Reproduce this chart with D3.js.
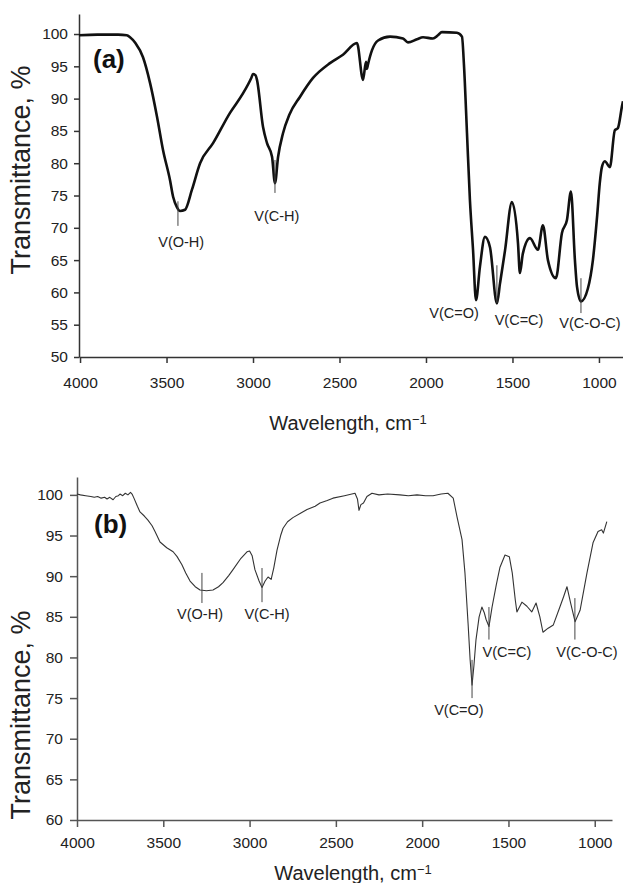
<!DOCTYPE html>
<html><head><meta charset="utf-8">
<script src="https://cdn.jsdelivr.net/npm/d3@7"></script>
<style>
html,body{margin:0;padding:0;background:#fff;}
svg{display:block;font-family:"Liberation Sans",Arial,sans-serif;}
</style></head>
<body><svg id="c" width="623" height="883"></svg>
<script>
// ---------- Panel (a) data ----------
const wavenumberA = [4006,3900,3780,3730,3711,3680,3636,3595,3555,3520,3480,3462,3440,3422,3393,3353,3306,3231,3133,3058,3010,3000,2985,2977,2942,2919,2890,2873,2855,2827,2790,2728,2653,2555,2480,2399,2364,2347,2341,2336,2312,2277,2208,2133,2104,2052,2017,1960,1931,1908,1821,1792,1780,1763,1746,1728,1711,1688,1659,1630,1590,1572,1543,1503,1468,1457,1440,1399,1353,1324,1295,1249,1214,1185,1162,1139,1127,1104,1064,1035,1010,995,983,966,937,908,891,867,861];
const transA = [99.8,99.9,99.9,99.8,99.5,98.6,96.4,92.4,87.2,82,77.4,74.8,73.2,72.6,72.8,75.9,80,83.1,87.8,90.8,93.2,93.8,93.6,92.9,85.6,83.1,81,76.9,81,84.6,87.5,90.3,93.2,95.5,96.8,98.6,92.9,95.7,94.6,95.2,97.5,99,99.6,99.3,98.7,99.2,99.5,99.3,99.8,100.3,100.2,99.6,95,84.7,74.3,66.6,58.8,64,68.6,67,58.3,61.4,66.5,74,67.6,63,66,68.4,66.6,70.4,65,62.2,69.2,71.2,75.6,65,60.9,58.6,60.6,65,72,77,79.4,80.3,79.4,85.1,85.4,88.8,89.6];

// ---------- Panel (b) data ----------
const wavenumberB = [4000,3980,3950,3920,3900,3880,3860,3840,3826,3810,3791,3775,3760,3751,3735,3720,3705,3690,3681,3670,3650,3635,3610,3589,3565,3548,3519,3480,3443,3420,3392,3370,3345,3315,3287,3250,3212,3180,3154,3120,3096,3050,3015,3000,2985,2969,2945,2928,2910,2893,2875,2860,2841,2820,2806,2780,2749,2700,2667,2620,2592,2550,2517,2450,2389,2375,2366,2355,2340,2320,2291,2250,2200,2129,2080,2030,1980,1937,1890,1851,1820,1798,1769,1752,1734,1722,1711,1700,1688,1670,1654,1640,1630,1613,1595,1570,1549,1520,1495,1478,1460,1451,1422,1393,1365,1340,1318,1300,1270,1240,1202,1180,1161,1140,1114,1085,1045,1010,981,960,950,930];
const transB = [100.1,100,99.9,99.8,99.7,99.8,99.6,99.7,99.5,99.7,99.4,99.8,99.9,100.1,99.9,100.2,100,100.3,100.1,99.6,98.6,97.9,97.4,96.9,96.2,95.5,94.2,93.5,93,92.4,91.4,90.4,89.4,88.7,88.3,88.2,88.3,88.7,89.2,90.1,90.8,92.2,93,93.1,92.5,90.8,89.4,88.6,89.4,89.9,89.6,91,93.2,95,95.9,96.7,97.2,97.8,98.2,98.6,99,99.3,99.6,99.9,100.2,99.5,98.1,98.8,99,99.8,100.2,100,100.1,100,99.9,100,99.9,99.9,100.1,100.2,99.6,97.3,94.5,90.4,84.2,79.7,76.6,79,82.2,85,86.2,85.5,84.7,83.8,86.2,89,91.1,92.6,92.4,90.4,87,85.6,86.8,86.3,85.6,86.7,85,83.1,83.6,84,86.2,87.5,88.7,86.7,84.4,85.8,90.4,94.1,95.5,95.7,95.3,96.7];

// ---------- Tick values ----------
const xTicks = [4000,3500,3000,2500,2000,1500,1000];
const yTicksA = [50,55,60,65,70,75,80,85,90,95,100];
const yTicksB = [60,65,70,75,80,85,90,95,100];

// ---------- Annotations ----------
const annotLabels = ["V(O-H)","V(C-H)","V(C=O)","V(C=C)","V(C-O-C)"];
const annotA = [
  {w:3434, t1:74.1, t2:70.3, lw:3415, lt:67.0},
  {w:2873, t1:80.5, t2:75.4, lw:2862, lt:71.1},
  {w:null, t1:null, t2:null, lw:1838, lt:56.0},
  {w:1590, t1:64.2, t2:58.4, lw:1462, lt:55.0},
  {w:1104, t1:62.2, t2:56.8, lw:1052, lt:54.5}
];
const annotB = [
  {w:3276, t1:90.4, t2:86.7, lw:3287, lt:84.7},
  {w:2928, t1:91.0, t2:86.8, lw:2899, lt:84.7},
  {w:1711, t1:79.7, t2:75.0, lw:1787, lt:72.9},
  {w:1613, t1:86.2, t2:82.2, lw:1509, lt:80.1},
  {w:1115, t1:87.3, t2:82.2, lw:1045, lt:80.1}
];

const svg = d3.select("#c");
const FONT_TICK = 15.5, FONT_TITLE = 20;

function panel(cfg){
  const g = svg.append("g");
  const x = d3.scaleLinear().domain(cfg.xDomain).range(cfg.xRange);
  const y = d3.scaleLinear().domain(cfg.yDomain).range(cfg.yRange);

  const xa = g.append("g").attr("transform",`translate(0,${cfg.yRange[0]})`)
    .call(d3.axisBottom(x).tickValues(xTicks).tickFormat(d3.format("d")).tickSize(cfg.xTickSize).tickPadding(cfg.xPad).tickSizeOuter(0));
  const ya = g.append("g").attr("transform",`translate(${cfg.xRange[0]},0)`)
    .call(d3.axisLeft(y).tickValues(cfg.yTicks).tickFormat(d3.format("d")).tickSize(cfg.yTickSize).tickPadding(cfg.yPad).tickSizeOuter(0));
  [xa,ya].forEach(a=>{
    a.select(".domain").attr("stroke",cfg.axisColor).attr("stroke-width",cfg.axisWidth);
    a.selectAll(".tick line").attr("stroke",cfg.axisColor).attr("stroke-width",cfg.axisWidth);
    a.selectAll(".tick text").attr("fill","#222").style("font-size",FONT_TICK+"px").style("font-family",'"Liberation Sans",Arial,sans-serif');
  });

  const line = d3.line().curve(cfg.curve).x((d,i)=>x(cfg.w[i])).y((d,i)=>y(cfg.t[i]));
  g.append("path").datum(cfg.t).attr("d",line).attr("fill","none")
    .attr("stroke",cfg.lineColor).attr("stroke-width",cfg.lineWidth).attr("stroke-linejoin","round");

  cfg.annot.forEach((a,i)=>{
    if(a.w!==null){
      g.append("line").attr("x1",x(a.w)).attr("x2",x(a.w)).attr("y1",y(a.t1)).attr("y2",y(a.t2))
        .attr("stroke","#444").attr("stroke-width",1);
    }
    g.append("text").attr("x",x(a.lw)).attr("y",y(a.lt)).attr("text-anchor","middle")
      .style("font-size","14.5px").attr("fill","#222").text(annotLabels[i]);
  });

  g.append("text").attr("x",cfg.tagX).attr("y",cfg.tagY).style("font-size","26px").style("font-weight","bold")
    .attr("fill","#111").text(cfg.tag);

  const xt = g.append("text").attr("x",cfg.xTitleX).attr("y",cfg.xTitleY).attr("text-anchor","middle")
    .style("font-size",FONT_TITLE+"px").attr("fill","#222");
  xt.append("tspan").text("Wavelength, cm");
  xt.append("tspan").attr("dy","-0.5em").style("font-size","13px").text("\u22121");

  g.append("text").attr("transform",`translate(${cfg.yTitleX},${cfg.yTitleY}) rotate(-90)`).attr("text-anchor","middle")
    .style("font-size",cfg.yTitleSize+"px").attr("fill","#222").text("Transmittance, %");
}

panel({
  xDomain:[4006,861], xRange:[79,623], yDomain:[50,103.1], yRange:[357,14],
  yTicks:yTicksA, xTickSize:6, xPad:14, yTickSize:5, yPad:6,
  axisColor:"#333", axisWidth:1.5, w:wavenumberA, t:transA, lineColor:"#111", lineWidth:2.6,
  curve:d3.curveMonotoneX,
  annot:annotA, tag:"(a)", tagX:93, tagY:68,
  xTitleX:348, xTitleY:430, yTitleX:30, yTitleY:170, yTitleSize:27
});
panel({
  xDomain:[4000,900], xRange:[77,612], yDomain:[60,102.2], yRange:[820,477],
  yTicks:yTicksB, xTickSize:7, xPad:10, yTickSize:7, yPad:7,
  axisColor:"#555", axisWidth:1.5, w:wavenumberB, t:transB, lineColor:"#333", lineWidth:1.1,
  curve:d3.curveLinear,
  annot:annotB, tag:"(b)", tagX:94, tagY:533,
  xTitleX:353, xTitleY:880, yTitleX:30, yTitleY:715, yTitleSize:27
});
</script></body></html>
